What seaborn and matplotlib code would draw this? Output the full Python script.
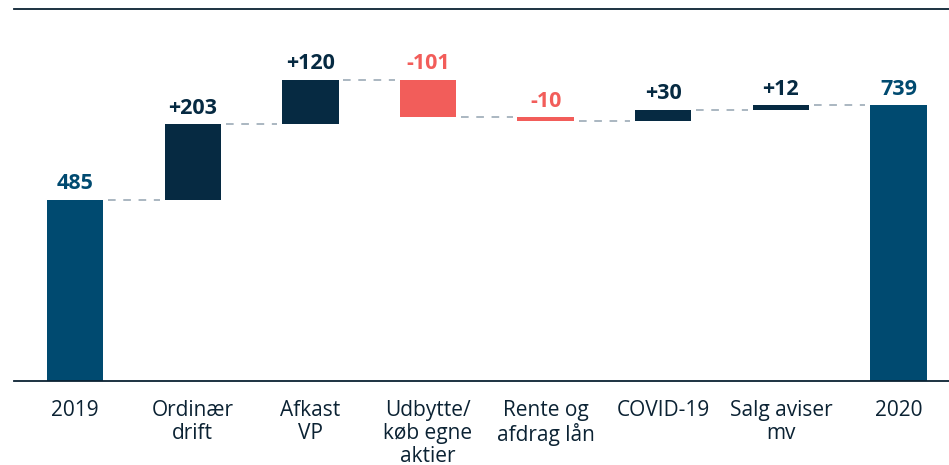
import seaborn as sns
import matplotlib.pyplot as plt
import pandas as pd
import numpy as np

sns.set_style("white")
plt.rcParams["font.family"] = ["Open Sans", "DejaVu Sans"]

# Waterfall data (mio. kr.)
categories = ["2019", "Ordinær\ndrift", "Afkast\nVP", "Udbytte/\nkøb egne\naktier",
              "Rente og\nafdrag lån", "COVID-19", "Salg aviser\nmv", "2020"]
start_value = 485
changes = [203, 120, -101, -10, 30, 12]
end_value = 739

BLUE = "#004a70"
NAVY = "#062a42"
RED = "#f25d5a"
GREY = "#93a3b0"

# Build bar heights / bottoms from the data
steps = np.array(changes)
cum = start_value + np.cumsum(steps)
prev = np.concatenate([[start_value], cum[:-1]])
bottoms = [0] + list(np.minimum(prev, cum)) + [0]
heights = [start_value] + list(np.abs(steps)) + [end_value]
labels = [f"{start_value}"] + [f"{c:+d}" for c in changes] + [f"{end_value}"]
colors = [BLUE] + [NAVY if c > 0 else RED for c in changes] + [BLUE]
levels = [start_value] + list(cum) + [end_value]

df = pd.DataFrame({"Kategori": categories, "Højde": heights})

fig = plt.figure(figsize=(9.49, 4.65), dpi=100)
ax = fig.add_axes([14 / 949, 1 - 381 / 465, 1 - 14 / 949, (381 - 9) / 465])

bw = 0.48
sns.barplot(data=df, x="Kategori", y="Højde", bottom=bottoms, width=bw,
            color=BLUE, saturation=1, ax=ax)
for p, c in zip(ax.patches, colors):
    p.set_facecolor(c)
    p.set_edgecolor("none")

# connectors
for i in range(len(categories) - 1):
    ax.plot([i + bw / 2 + 0.04, i + 1 - bw / 2 - 0.04], [levels[i], levels[i]],
            color=GREY, lw=1.1, ls=(0, (5, 5)), zorder=0)

# value labels
for i, (b, h, lab, c) in enumerate(zip(bottoms, heights, labels, colors)):
    ax.annotate(lab, (i, b + h), xytext=(0, 4), textcoords="offset points",
                ha="center", va="bottom", fontsize=15.5, fontweight="bold", color=c)

ax.set_xlim(-0.52, 7.43)
ax.set_ylim(0, 997)
ax.set_xlabel("")
ax.set_ylabel("")
ax.set_yticks([])
ax.tick_params(axis="x", length=0, pad=14, labelsize=15, labelcolor="#0b2233")
for lab in ax.get_xticklabels():
    lab.set_linespacing(1.1)
    lab.set_verticalalignment("top")

for s in ["left", "right"]:
    ax.spines[s].set_visible(False)
ax.spines["bottom"].set_color("#0b2233")
ax.spines["bottom"].set_linewidth(1.3)
ax.spines["top"].set_color("#0b2233")
ax.spines["top"].set_linewidth(1.3)

fig.savefig("out.png", dpi=100)
plt.close(fig)
